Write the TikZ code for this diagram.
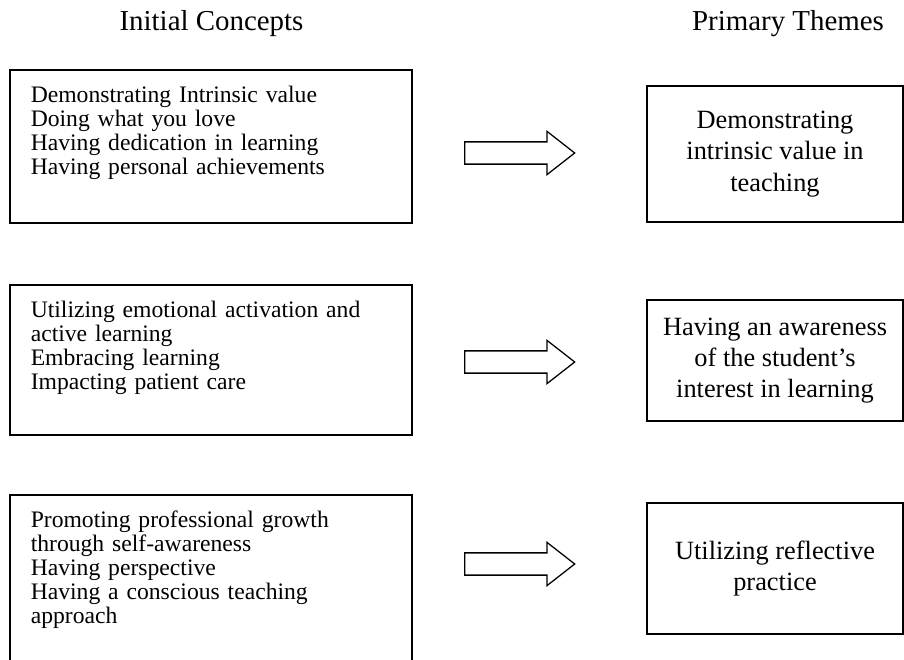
\documentclass[tikz,border=0pt]{standalone}
\usepackage{fontspec}
\setmainfont{Liberation Serif}
\usetikzlibrary{positioning}
\usetikzlibrary{shapes.arrows}

\tikzset{
  concept/.style={draw, line width=1pt, anchor=north west, text width=211.7pt, align=left,
    inner xsep=12.3pt, inner ysep=10.4pt, text height=9pt, font=\fontsize{13.9}{14.1}\selectfont},
  theme/.style={draw, line width=1pt, minimum width=150.5pt, align=center,
    font=\fontsize{15.5}{18.4}\selectfont},
  heading/.style={anchor=base, font=\fontsize{17}{19}\selectfont},
  blockarrow/.style={draw, line width=0.75pt, single arrow, anchor=tail, minimum height=64.7pt,
    inner xsep=0pt, inner ysep=6.17pt, single arrow head extend=6.2pt, single arrow tip angle=76}
}

\begin{document}
\begin{tikzpicture}[x=0.588pt, y=-0.588pt]
\clip (0,0) rectangle (904,659);
% headings
\path node[heading] (hc) at (211.5,31) {Initial Concepts};
\path node[heading] (ht) at (788,31) {Primary Themes};
% initial concepts
\path node[concept, text depth=60.2pt] (c1) at (9,69) {Demonstrating Intrinsic value\\ Doing what you love\\ Having dedication in learning\\ Having personal achievements};
\path node[concept, text depth=58.4pt] (c2) at (9,284) {Utilizing emotional activation and\\ active learning\\ Embracing learning\\ Impacting patient care};
\path node[concept, text depth=85.4pt] (c3) at (9,494) {Promoting professional growth\\ through self-awareness\\ Having perspective\\ Having a conscious teaching\\ approach};
% primary themes
\path node[theme, minimum height=80pt] (t1) at (775,154) {Demonstrating\\ intrinsic value in\\ teaching};
\path node[theme, minimum height=71.1pt] (t2) at (775,360.5) {Having an awareness\\ of the student’s\\ interest in learning};
\path node[theme, minimum height=77pt] (t3) at (775,568.5) {Utilizing reflective\\ practice};
% arrows
\path node[blockarrow] (a1) at (464,153) {};
\path node[blockarrow] (a2) at (464,362) {};
\path node[blockarrow] (a3) at (464,564) {};
\end{tikzpicture}
\end{document}
